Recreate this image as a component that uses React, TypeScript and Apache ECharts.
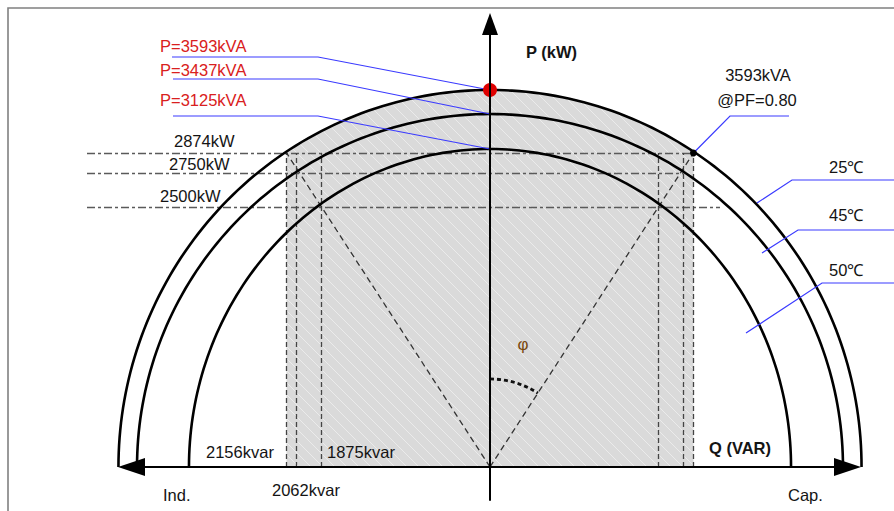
import React, { useEffect, useRef } from "react";
import * as echarts from "echarts";

// ---------------- data ----------------
// Rated apparent power for the three ambient temperatures
const kvaLabels = ["P=3593kVA", "P=3437kVA", "P=3125kVA"];
const tempLabels = ["25℃", "45℃", "50℃"];
const activeLabels = ["2874kW", "2750kW", "2500kW"];
const reactiveLabels = ["2156kvar", "2062kvar", "1875kvar"];
const pfLabel = ["3593kVA", "@PF=0.80"];

// Schematic positions (drawing units, outer curve top = 3593)
const arcRadiusQ = [3541, 3364, 2869]; // half-width of each capability curve
const arcRadiusP = [3593, 3364, 3031]; // height of each capability curve
const levelP = [2993, 2802, 2478]; // drawn height of the 2874 / 2750 / 2500 kW lines
const levelQ = [1939, 1844, 1606]; // drawn offset of the 2156 / 2062 / 1875 kvar lines
const phiRadius = 839;

// ---------------- layout ----------------
const W = 894;
const H = 511;
const OX = 490;
const OY = 467;
const K = 3593 / 377; // drawing units per pixel
const toData = (x: number, y: number) => [(x - OX) * K, (OY - y) * K];

const FONT = '"Liberation Sans", Arial, sans-serif';
const TXT = "#141414";
const RED = "#d92020";
const BLUE = "#3a3aff";

export default function App() {
  const ref = useRef<HTMLDivElement>(null);

  useEffect(() => {
    const chart = echarts.init(ref.current!, null, { renderer: "svg" });

    const tile = document.createElement("canvas");
    tile.width = 12;
    tile.height = 12;
    const ctx = tile.getContext("2d")!;
    ctx.fillStyle = "#dadada";
    ctx.fillRect(0, 0, 12, 12);
    ctx.strokeStyle = "rgba(255,255,255,0.45)";
    ctx.lineWidth = 1;
    for (const o of [-12, 0, 12]) {
      ctx.beginPath();
      ctx.moveTo(o, 0);
      ctx.lineTo(o + 12, 12);
      ctx.stroke();
    }
    const hatch: any = { image: tile, repeat: "repeat" };

    const text = (t: string, x: number, y: number, o: any = {}) => ({
      type: "text",
      x,
      y,
      z: 100,
      style: {
        text: t,
        fill: o.fill || TXT,
        font: `${o.bold ? "bold " : ""}${o.size || 16.5}px ${FONT}`,
        align: o.align || "left",
        verticalAlign: "middle",
        textAlign: o.align || "left",
        textVerticalAlign: "middle",
      },
    });

    const graphics: any[] = [
      {
        type: "polyline",
        z: 0,
        shape: { points: [[8, H], [8, 8], [W, 8]] },
        style: { stroke: "#808080", lineWidth: 1.6, fill: null },
      },
      text(kvaLabels[0], 160, 46, { fill: RED }),
      text(kvaLabels[1], 160, 70, { fill: RED }),
      text(kvaLabels[2], 160, 100, { fill: RED }),
      text(activeLabels[0], 174, 141),
      text(activeLabels[1], 169, 164),
      text(activeLabels[2], 160, 196),
      text("P (kW)", 526, 52, { bold: true }),
      text(pfLabel[0], 758, 75, { align: "center" }),
      text(pfLabel[1], 757, 100, { align: "center" }),
      text(tempLabels[0], 829, 167),
      text(tempLabels[1], 829, 215),
      text(tempLabels[2], 829, 270),
      text(reactiveLabels[0], 206, 452),
      text(reactiveLabels[2], 327, 452),
      text(reactiveLabels[1], 272, 490),
      text("Ind.", 163, 495),
      text("Q (VAR)", 709, 448, { bold: true }),
      text("Cap.", 788, 495),
      text("φ", 523, 344, { fill: "#7a4a10", align: "center", size: 17 }),
    ];

    const arcData = arcRadiusQ.map((q, i) => [q, arcRadiusP[i]]);

    const option: any = {
      animation: false,
      backgroundColor: "#ffffff",
      grid: { left: 131.5, right: W - 847.5, top: 24, bottom: 11, containLabel: false },
      xAxis: {
        type: "value",
        min: (131.5 - OX) * K,
        max: (847.5 - OX) * K,
        z: 10,
        axisLine: {
          show: true,
          onZero: true,
          symbol: ["triangle", "triangle"],
          symbolSize: [18, 27],
          lineStyle: { color: "#000", width: 2 },
        },
        axisTick: { show: false },
        axisLabel: { show: false },
        splitLine: { show: false },
      },
      yAxis: {
        type: "value",
        min: (OY - 500) * K,
        max: (OY - 24) * K,
        z: 10,
        axisLine: {
          show: true,
          onZero: true,
          symbol: ["none", "triangle"],
          symbolSize: [16, 22],
          lineStyle: { color: "#000", width: 2 },
        },
        axisTick: { show: false },
        axisLabel: { show: false },
        splitLine: { show: false },
      },
      graphic: { elements: graphics },
      series: [
        // shaded operating region
        {
          type: "custom",
          coordinateSystem: "cartesian2d",
          clip: false,
          z: 1,
          silent: true,
          data: [[arcRadiusQ[0], arcRadiusP[0], levelQ[0]]],
          renderItem: (params: any, api: any) => {
            const rx = api.value(0);
            const ry = api.value(1);
            const q = api.value(2);
            const o = api.coord([0, 0]);
            const s = api.size([rx, ry]);
            const pq = api.size([q, 0])[0];
            const pts: number[][] = [[o[0] - pq, o[1]]];
            const n = 80;
            for (let i = 0; i <= n; i++) {
              const x = -pq + (2 * pq * i) / n;
              const y = s[1] * Math.sqrt(Math.max(0, 1 - (x / s[0]) ** 2));
              pts.push([o[0] + x, o[1] - y]);
            }
            pts.push([o[0] + pq, o[1]]);
            return { type: "polygon", shape: { points: pts }, style: { fill: hatch, stroke: null } };
          },
        },
        // horizontal dash-dot P levels
        {
          type: "lines",
          coordinateSystem: "cartesian2d",
          clip: false,
          z: 3,
          silent: true,
          lineStyle: { color: "#5a5a5a", width: 1.4, type: [8, 3, 3, 3], opacity: 1 },
          data: [
            { coords: [[toData(87, 0)[0], levelP[0]], [levelQ[0], levelP[0]]] },
            { coords: [[toData(87, 0)[0], levelP[1]], [levelQ[1], levelP[1]]] },
            { coords: [[toData(87, 0)[0], levelP[2]], [toData(720, 0)[0], levelP[2]]] },
          ],
        },
        // vertical dashed Q levels
        {
          type: "lines",
          coordinateSystem: "cartesian2d",
          clip: false,
          z: 3,
          silent: true,
          lineStyle: { color: "#444", width: 1.3, type: [5, 3], opacity: 1 },
          data: levelQ.flatMap((q) => [
            { coords: [[-q, 0], [-q, levelP[0]]] },
            { coords: [[q, 0], [q, levelP[0]]] },
          ]),
        },
        // diagonals (power-factor angle)
        {
          type: "lines",
          coordinateSystem: "cartesian2d",
          clip: false,
          z: 3,
          silent: true,
          lineStyle: { color: "#333", width: 1.3, type: [6, 4], opacity: 1 },
          data: [
            { coords: [[0, 0], [-levelQ[0], levelP[0]]] },
            { coords: [[0, 0], [levelQ[0], levelP[0]]] },
          ],
        },
        // capability curves
        {
          type: "custom",
          coordinateSystem: "cartesian2d",
          clip: false,
          z: 5,
          silent: true,
          data: arcData,
          renderItem: (params: any, api: any) => {
            const o = api.coord([0, 0]);
            const s = api.size([api.value(0), api.value(1)]);
            const pts: number[][] = [];
            const n = 160;
            for (let i = 0; i <= n; i++) {
              const t = (Math.PI * i) / n;
              pts.push([o[0] - s[0] * Math.cos(t), o[1] - s[1] * Math.sin(t)]);
            }
            return {
              type: "polyline",
              shape: { points: pts },
              style: { stroke: "#000", lineWidth: 2.6, fill: null },
            };
          },
        },
        // phi angle arc
        {
          type: "custom",
          coordinateSystem: "cartesian2d",
          clip: false,
          z: 5,
          silent: true,
          data: [[phiRadius, 0]],
          renderItem: (params: any, api: any) => {
            const o = api.coord([0, 0]);
            const e = api.coord([levelQ[0], levelP[0]]);
            const r = api.size([api.value(0), 0])[0];
            const ang = Math.atan2(e[1] - o[1], e[0] - o[0]);
            return {
              type: "arc",
              shape: { cx: o[0], cy: o[1], r, startAngle: -Math.PI / 2, endAngle: ang, clockwise: true },
              style: { stroke: "#111", lineWidth: 2.8, lineDash: [4, 3], fill: null },
            };
          },
        },
        // blue leader lines
        {
          type: "lines",
          coordinateSystem: "cartesian2d",
          polyline: true,
          clip: false,
          z: 6,
          silent: true,
          lineStyle: { color: BLUE, width: 1.2, opacity: 1 },
          data: [
            { coords: [toData(172, 57), toData(318, 57), [0, arcRadiusP[0]]] },
            { coords: [toData(173, 79), toData(318, 79), [0, arcRadiusP[1]]] },
            { coords: [toData(173, 116), toData(318, 116), [0, arcRadiusP[2]]] },
            { coords: [toData(789, 116), toData(730, 116), [levelQ[0], levelP[0]]] },
            { coords: [toData(894, 180), toData(792, 180), toData(757, 203)] },
            { coords: [toData(894, 230), toData(798, 230), toData(762, 253)] },
            { coords: [toData(894, 283), toData(822, 283), toData(746, 333)] },
          ],
        },
        // rated point markers
        {
          type: "scatter",
          z: 8,
          silent: true,
          symbolSize: 14,
          itemStyle: { color: "#dd0000", opacity: 1 },
          data: [[0, arcRadiusP[0]]],
        },
        {
          type: "scatter",
          z: 8,
          silent: true,
          symbolSize: 7,
          itemStyle: { color: "#000", opacity: 1 },
          data: [[levelQ[0], levelP[0]]],
        },
      ],
    };

    chart.setOption(option);
    return () => chart.dispose();
  }, []);

  return (
    <div
      ref={ref}
      style={{ position: "fixed", left: 0, top: 0, width: W, height: H, background: "#fff" }}
    />
  );
}
